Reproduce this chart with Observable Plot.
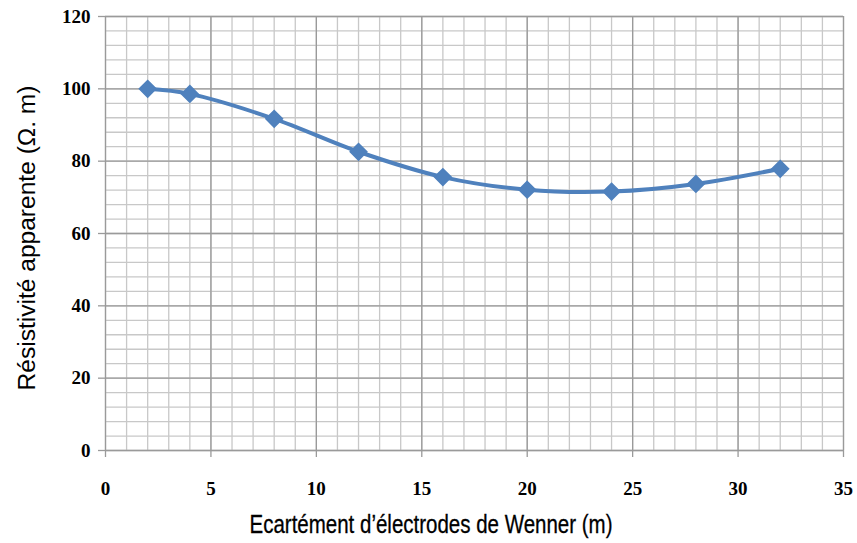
<!DOCTYPE html>
<html><head><meta charset="utf-8">
<script src="https://cdn.jsdelivr.net/npm/d3@7"></script>
<script src="https://cdn.jsdelivr.net/npm/@observablehq/plot@0.6"></script>
<style>body{margin:0;background:#fff}</style>
</head><body><div id="chart"></div>
<script>
const spacing = [2, 4, 8, 12, 16, 20, 24, 28, 32];
const resistivity = [100, 98.6, 91.7, 82.6, 75.6, 72.1, 71.6, 73.7, 77.9];
const xTicks = [0, 5, 10, 15, 20, 25, 30, 35];
const yTicks = [0, 20, 40, 60, 80, 100, 120];
const xMinor = d3.range(0, 36, 1);
const yMinor = d3.range(0, 121, 4);
const xTitle = "Ecartément d’électrodes de Wenner (m)";
const yTitle = "Résistivité apparente (Ω. m)";

const data = spacing.map((x, i) => ({x, y: resistivity[i]}));
const tickFont = {fontFamily: "Liberation Serif", fontWeight: "bold", fontSize: 19};

const chart = Plot.plot({
  width: 857, height: 543,
  marginLeft: 105, marginRight: 14, marginTop: 16, marginBottom: 93,
  x: {domain: [0, 35]},
  y: {domain: [0, 120]},
  style: {background: "#fff"},
  marks: [
    Plot.ruleX(xMinor, {stroke: "#c8c8c8", strokeWidth: 1.3, strokeOpacity: 1}),
    Plot.ruleY(yMinor, {stroke: "#c8c8c8", strokeWidth: 1.3, strokeOpacity: 1}),
    Plot.ruleX(xTicks, {stroke: "#9a9a9a", strokeWidth: 1.3, strokeOpacity: 1}),
    Plot.ruleY(yTicks, {stroke: "#9a9a9a", strokeWidth: 1.3, strokeOpacity: 1}),
    Plot.axisX({ticks: xTicks, tickSize: 7, tickPadding: 24, stroke: "#9a9a9a", strokeWidth: 1.3, label: null, ...tickFont, fill: "#000"}),
    Plot.axisY({ticks: yTicks, tickSize: 7, tickPadding: 8, stroke: "#9a9a9a", strokeWidth: 1.3, label: null, ...tickFont, fill: "#000"}),
    Plot.line(data, {x: "x", y: "y", curve: "catmull-rom", stroke: "#4F81BD", strokeWidth: 4}),
    Plot.dot(data, {x: "x", y: "y", symbol: "diamond2", r: 7.5, fill: "#4F81BD", stroke: "#4F81BD"})
  ]
});
const svg = d3.select(chart);
svg.append("text").attr("x", 431).attr("y", 533).attr("text-anchor", "middle")
  .attr("font-family", "Liberation Sans, sans-serif").attr("font-size", 26)
  .attr("stroke", "#000").attr("stroke-width", 0.3)
  .attr("textLength", 363).attr("lengthAdjust", "spacingAndGlyphs")
  .attr("fill", "#000").text(xTitle);
svg.append("text").attr("transform", "translate(35,238) rotate(-90)").attr("text-anchor", "middle")
  .attr("font-family", "Liberation Sans, sans-serif").attr("font-size", 23)
  .attr("textLength", 305).attr("lengthAdjust", "spacingAndGlyphs")
  .attr("fill", "#000").text(yTitle);
document.getElementById("chart").append(chart);
</script></body></html>
